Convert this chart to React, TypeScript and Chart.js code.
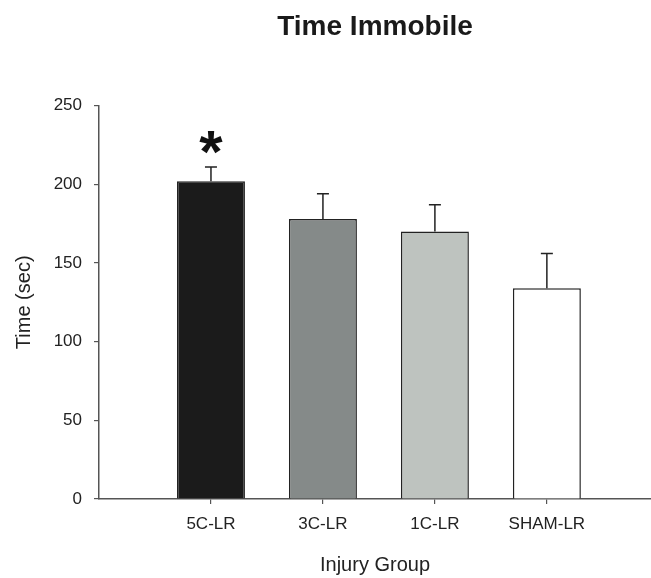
import React, { useEffect, useRef } from "react";
import { Chart, registerables } from "chart.js";

Chart.register(...registerables);

const groups = ["5C-LR", "3C-LR", "1C-LR", "SHAM-LR"];
const meanTime = [202, 178, 170, 134];
const errorTop = [211, 194, 187, 156];
const significance = ["*", "", "", ""];
const yTickValues = [0, 50, 100, 150, 200, 250];
const barColors = ["#1b1b1b", "#858a89", "#bec3bf", "#ffffff"];

const FONT = "'Liberation Sans', Arial, Helvetica, sans-serif";

const errorBarPlugin = {
  id: "errorBars",
  afterDatasetsDraw(chart: any) {
    const { ctx } = chart;
    const xs = chart.scales.x;
    const ys = chart.scales.y;
    ctx.save();
    ctx.strokeStyle = "#222222";
    ctx.lineWidth = 1.5;
    groups.forEach((_, i) => {
      const px = xs.getPixelForValue(i);
      const y0 = ys.getPixelForValue(meanTime[i]);
      const y1 = ys.getPixelForValue(errorTop[i]);
      ctx.beginPath();
      ctx.moveTo(px, y0);
      ctx.lineTo(px, y1);
      ctx.moveTo(px - 6, y1);
      ctx.lineTo(px + 6, y1);
      ctx.stroke();
      if (significance[i]) {
        ctx.font = `bold 60px ${FONT}`;
        ctx.fillStyle = "#111111";
        ctx.textAlign = "center";
        ctx.textBaseline = "alphabetic";
        const m = ctx.measureText(significance[i]);
        const base = y1 - 13 - m.actualBoundingBoxDescent;
        ctx.fillText(significance[i], px, base);
      }
    });
    ctx.restore();
  },
};

export default function App() {
  const ref = useRef<HTMLCanvasElement | null>(null);

  useEffect(() => {
    document.body.style.margin = "0";
    const canvas = ref.current;
    if (!canvas) return;
    const chart = new Chart(canvas, {
      type: "bar",
      data: {
        datasets: [
          {
            data: meanTime.map((v, i) => ({ x: i, y: v })),
            backgroundColor: barColors,
            borderColor: "#222222",
            borderWidth: 1.5,
            borderSkipped: "start",
            categoryPercentage: 1,
            barPercentage: 0.607,
          },
        ],
      },
      options: {
        animation: false,
        responsive: false,
        maintainAspectRatio: false,
        layout: { padding: { left: 0, right: 0, top: 0, bottom: 0 } },
        plugins: {
          legend: { display: false },
          tooltip: { enabled: false },
          title: {
            display: true,
            text: "Time Immobile",
            fullSize: false,
            color: "#1a1a1a",
            font: { family: FONT, size: 28, weight: "bold" },
            padding: { top: 10, bottom: 62 },
          },
        },
        scales: {
          x: {
            type: "linear",
            offset: false,
            min: -1,
            max: 3.93,
            afterFit: (scale: any) => {
              scale.height = 79;
            },
            afterBuildTicks: (scale: any) => {
              scale.ticks = groups.map((_, i) => ({ value: i }));
            },
            ticks: {
              autoSkip: false,
              maxRotation: 0,
              padding: 10,
              color: "#222222",
              font: { family: FONT, size: 17 },
              callback: (value: any) => groups[value as number] ?? "",
            },
            grid: {
              display: true,
              offset: false,
              drawOnChartArea: false,
              drawTicks: true,
              tickLength: 5,
              color: "#555555",
              lineWidth: 1.2,
            },
            border: { display: true, color: "#555555", width: 1.5 },
            title: {
              display: true,
              text: "Injury Group",
              color: "#222222",
              font: { family: FONT, size: 20 },
              padding: { top: 0, bottom: 1 },
            },
          },
          y: {
            min: 0,
            max: 250,
            afterFit: (scale: any) => {
              scale.width = 99;
            },
            afterBuildTicks: (scale: any) => {
              scale.ticks = yTickValues.map((v) => ({ value: v }));
            },
            ticks: {
              padding: 12,
              color: "#222222",
              font: { family: FONT, size: 17 },
            },
            grid: {
              display: true,
              drawOnChartArea: false,
              drawTicks: true,
              tickLength: 5,
              color: "#555555",
              lineWidth: 1.2,
            },
            border: { display: true, color: "#555555", width: 1.5 },
            title: {
              display: true,
              text: "Time (sec)",
              color: "#222222",
              font: { family: FONT, size: 20 },
              padding: { top: 12, bottom: 0 },
            },
          },
        },
      },
      plugins: [errorBarPlugin],
    } as any);
    return () => chart.destroy();
  }, []);

  return (
    <div style={{ width: 651, height: 578, background: "#ffffff" }}>
      <canvas ref={ref} width={651} height={578} />
    </div>
  );
}
